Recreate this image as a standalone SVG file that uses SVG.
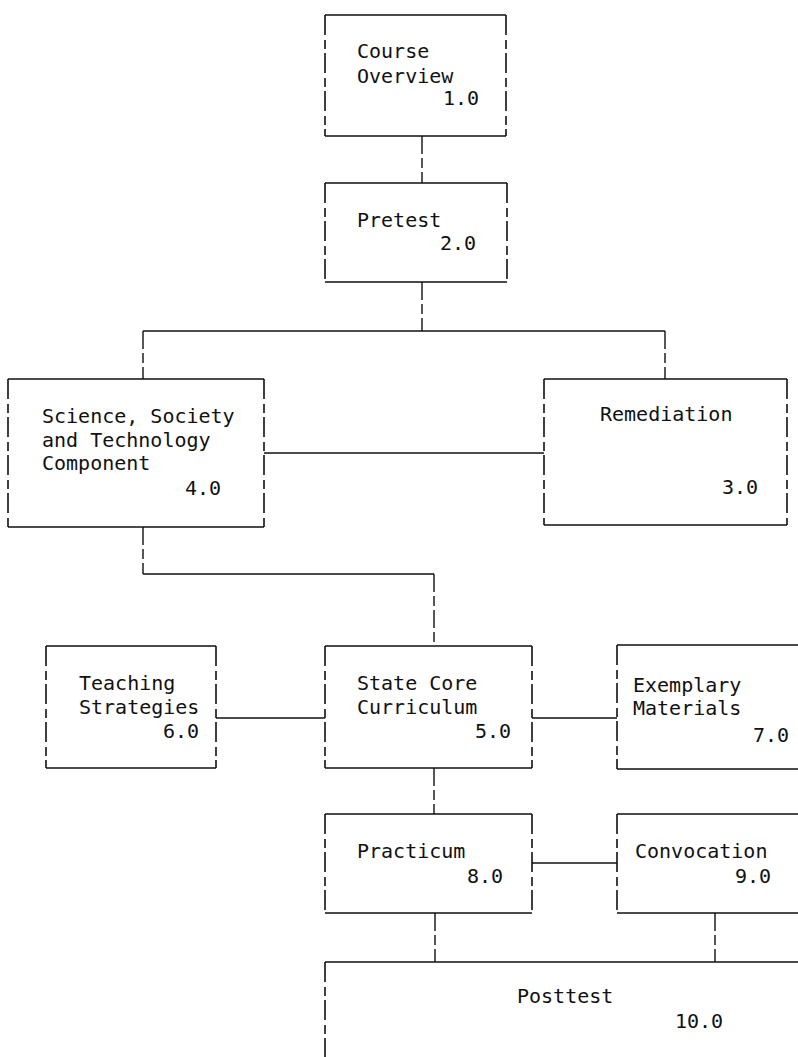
<svg xmlns="http://www.w3.org/2000/svg" width="798" height="1057" viewBox="0 0 798 1057">
<style>
.h{stroke:#111;stroke-width:1.6;fill:none}
.v{stroke:#111;stroke-width:1.6;fill:none;stroke-dasharray:20 5 9 4}
.c{stroke:#111;stroke-width:1.4;fill:none}
.cv{stroke:#111;stroke-width:1.4;fill:none;stroke-dasharray:18 4 10 4}
text{font-family:"DejaVu Sans Mono","Liberation Mono",monospace;font-size:20px;fill:#111}
</style>
<rect width="798" height="1057" fill="#fff"/>
<g id="connectors">
<line class="cv" x1="422" y1="136" x2="422" y2="183"/>
<line class="cv" x1="422" y1="282" x2="422" y2="331"/>
<line class="c" x1="143" y1="331" x2="665" y2="331"/>
<line class="cv" x1="143" y1="331" x2="143" y2="379"/>
<line class="cv" x1="665" y1="331" x2="665" y2="379"/>
<line class="c" x1="264" y1="453" x2="544" y2="453"/>
<line class="cv" x1="143" y1="527" x2="143" y2="574"/>
<line class="c" x1="143" y1="574" x2="434" y2="574"/>
<line class="cv" x1="434" y1="574" x2="434" y2="646"/>
<line class="c" x1="216" y1="718" x2="325" y2="718"/>
<line class="c" x1="532" y1="718" x2="617" y2="718"/>
<line class="cv" x1="434" y1="768" x2="434" y2="814"/>
<line class="c" x1="532" y1="863" x2="617" y2="863"/>
<line class="cv" x1="435" y1="913" x2="435" y2="962"/>
<line class="cv" x1="715" y1="913" x2="715" y2="962"/>
</g>
<g id="node1">
<path class="h" d="M325 15H506M325 136H506"/>
<path class="v" d="M325 15V136M506 15V136"/>
<text x="357" y="58">Course</text>
<text x="357" y="83">Overview</text>
<text x="443" y="105">1.0</text>
</g>
<g id="node2">
<path class="h" d="M325 183H507M325 282H507"/>
<path class="v" d="M325 183V282M507 183V282"/>
<text x="357" y="227">Pretest</text>
<text x="440" y="250">2.0</text>
</g>
<g id="node4">
<path class="h" d="M8 379H264M8 527H264"/>
<path class="v" d="M8 379V527M264 379V527"/>
<text x="42" y="423">Science, Society</text>
<text x="42" y="447">and Technology</text>
<text x="42" y="470">Component</text>
<text x="185" y="495">4.0</text>
</g>
<g id="node3">
<path class="h" d="M544 379H787M544 525H787"/>
<path class="v" d="M544 379V525M787 379V525"/>
<text x="600" y="421">Remediation</text>
<text x="722" y="494">3.0</text>
</g>
<g id="node6">
<path class="h" d="M46 646H216M46 768H216"/>
<path class="v" d="M46 646V768M216 646V768"/>
<text x="79" y="690">Teaching</text>
<text x="79" y="714">Strategies</text>
<text x="163" y="738">6.0</text>
</g>
<g id="node5">
<path class="h" d="M325 646H532M325 768H532"/>
<path class="v" d="M325 646V768M532 646V768"/>
<text x="357" y="690">State Core</text>
<text x="357" y="714">Curriculum</text>
<text x="475" y="738">5.0</text>
</g>
<g id="node7">
<path class="h" d="M617 645H798M617 769H798"/>
<path class="v" d="M617 645V769"/>
<text x="633" y="692">Exemplary</text>
<text x="633" y="715">Materials</text>
<text x="753" y="742">7.0</text>
</g>
<g id="node8">
<path class="h" d="M325 814H532M325 913H532"/>
<path class="v" d="M325 814V913M532 814V913"/>
<text x="357" y="858">Practicum</text>
<text x="467" y="883">8.0</text>
</g>
<g id="node9">
<path class="h" d="M617 814H798M617 913H798"/>
<path class="v" d="M617 814V913"/>
<text x="635" y="858">Convocation</text>
<text x="735" y="883">9.0</text>
</g>
<g id="node10">
<path class="h" d="M325 962H798"/>
<path class="v" d="M325 962V1057"/>
<text x="517" y="1003">Posttest</text>
<text x="675" y="1028">10.0</text>
</g>
</svg>
